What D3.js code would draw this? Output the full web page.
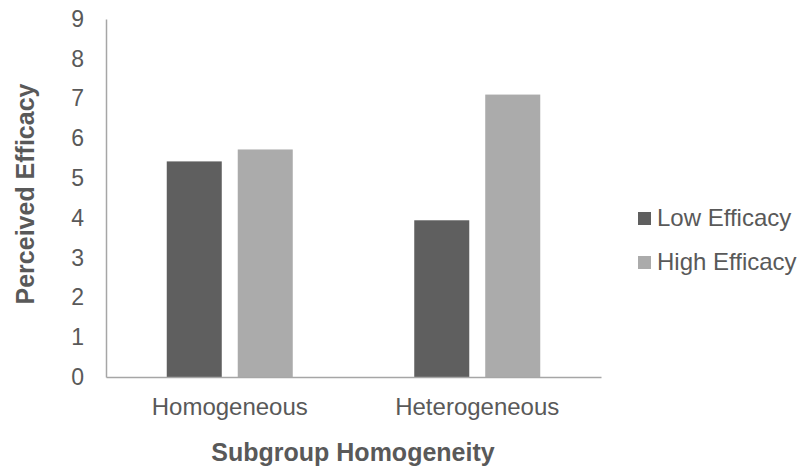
<!DOCTYPE html>
<html>
<head>
<meta charset="utf-8">
<script src="https://cdn.jsdelivr.net/npm/d3@7"></script>
<style>
  body { margin: 0; background: #fff; }
  text { font-family: "Liberation Sans", Arial, sans-serif; fill: #595959; }
</style>
</head>
<body>
<svg width="804" height="469"></svg>
<script>
// data
const groups = ["Homogeneous", "Heterogeneous"];
const seriesNames = ["Low Efficacy", "High Efficacy"];
const lowEfficacy = [5.42, 3.94];
const highEfficacy = [5.72, 7.10];
const yTicks = [0, 1, 2, 3, 4, 5, 6, 7, 8, 9];
const colors = ["#5f5f5f", "#ababab"];

const svg = d3.select("svg");
const margin = { left: 106, right: 203, top: 19, bottom: 92 };
const width = 804, height = 469;

const rows = groups.map((g, i) => ({ group: g, values: [lowEfficacy[i], highEfficacy[i]] }));

const x = d3.scaleBand()
    .domain(groups)
    .range([margin.left, width - margin.right]);

const xInner = d3.scaleBand()
    .domain(seriesNames)
    .range([0, 126])
    .paddingInner(0.225);

const y = d3.scaleLinear()
    .domain([0, 9])
    .range([height - margin.bottom, margin.top]);

// bars
const g = svg.append("g")
    .selectAll("g")
    .data(rows)
    .join("g")
    .attr("transform", d => "translate(" + (x(d.group) + (x.bandwidth() - 126) / 2) + ",0)");

g.selectAll("rect")
    .data(d => d.values.map((v, i) => ({ key: seriesNames[i], value: v, i: i })))
    .join("rect")
    .attr("x", d => xInner(d.key))
    .attr("width", xInner.bandwidth())
    .attr("y", d => y(d.value))
    .attr("height", d => y(0) - y(d.value))
    .attr("fill", d => colors[d.i]);

// y axis
const yAxis = svg.append("g")
    .attr("transform", "translate(" + margin.left + ",0)")
    .call(d3.axisLeft(y).tickValues(yTicks).tickSize(0).tickPadding(22));
yAxis.select(".domain").attr("stroke", "#a6a6a6").attr("stroke-width", 1.5);
yAxis.selectAll("text")
    .style("font-size", "23px")
    .attr("fill", "#595959");

// x axis
const xAxis = svg.append("g")
    .attr("transform", "translate(0," + y(0) + ")")
    .call(d3.axisBottom(x).tickSize(0).tickPadding(21));
xAxis.select(".domain").attr("stroke", "#a6a6a6").attr("stroke-width", 1.5);
xAxis.selectAll("text")
    .style("font-size", "24px")
    .attr("fill", "#595959");

// axis titles
svg.append("text")
    .attr("transform", "translate(34,194) rotate(-90)")
    .attr("text-anchor", "middle")
    .style("font-size", "25px")
    .style("font-weight", "bold")
    .text("Perceived Efficacy");

svg.append("text")
    .attr("x", 353)
    .attr("y", 461)
    .attr("text-anchor", "middle")
    .style("font-size", "25px")
    .style("font-weight", "bold")
    .text("Subgroup Homogeneity");

// legend
const legend = svg.append("g")
    .selectAll("g")
    .data(seriesNames)
    .join("g")
    .attr("transform", (d, i) => "translate(638," + (212 + i * 44) + ")");

legend.append("rect")
    .attr("width", 13)
    .attr("height", 13)
    .attr("fill", (d, i) => colors[i]);

legend.append("text")
    .attr("x", 19)
    .attr("y", 14)
    .style("font-size", "24px")
    .text(d => d);
</script>
</body>
</html>
